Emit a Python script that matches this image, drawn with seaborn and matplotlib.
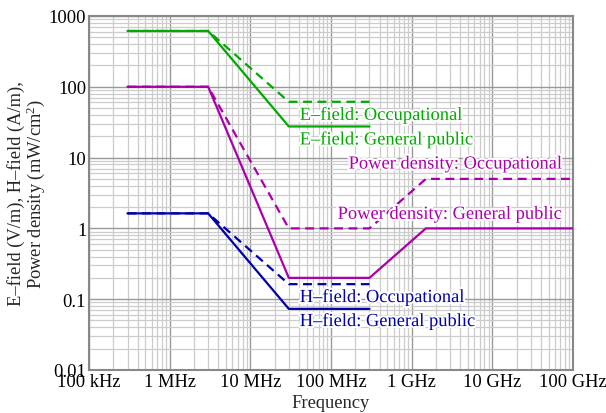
import numpy as np
import pandas as pd
import matplotlib
matplotlib.use("Agg")
import matplotlib.pyplot as plt
import matplotlib.patheffects as pe
from matplotlib.ticker import LogLocator, FixedLocator, NullFormatter
import seaborn as sns

# ---- data ----
freq_field = [3e5, 3e6, 3e7, 3e8]
e_occupational = [614, 614, 61.4, 61.4]
e_general = [614, 614, 27.5, 27.5]
h_occupational = [1.63, 1.63, 0.163, 0.163]
h_general = [1.63, 1.63, 0.073, 0.073]
freq_power = [3e5, 3e6, 3e7, 3e8, 1.5e9, 1e11]
p_occupational = [100, 100, 1, 1, 5, 5]
p_general = [100, 100, 0.2, 0.2, 1, 1]

x_ticks = [1e5, 1e6, 1e7, 1e8, 1e9, 1e10, 1e11]
x_tick_labels = ["100 kHz", "1 MHz", "10 MHz", "100 MHz", "1 GHz", "10 GHz", "100 GHz"]
y_ticks = [0.01, 0.1, 1, 10, 100, 1000]
y_tick_labels = ["0.01", "0.1", "1", "10", "100", "1000"]

GREEN = "#00aa00"
MAGENTA = "#aa00aa"
BLUE = "#0000aa"

sns.set_theme(style="white")
plt.rcParams["font.family"] = ["Liberation Serif", "DejaVu Serif"]
plt.rcParams["mathtext.fontset"] = "custom"
plt.rcParams["mathtext.rm"] = "Liberation Serif"
plt.rcParams["mathtext.it"] = "Liberation Serif:italic"
FS = 13.3

fig = plt.figure(figsize=(6.06, 4.14), dpi=100)
ax = fig.add_axes([0.1469, 0.1039, 0.7986, 0.8551])

series = [
    (freq_field, e_occupational, GREEN, (0, (4, 2.5))),
    (freq_field, e_general, GREEN, "-"),
    (freq_field, h_occupational, BLUE, (0, (4, 2.5))),
    (freq_field, h_general, BLUE, "-"),
    (freq_power, p_occupational, MAGENTA, (0, (4, 2.5))),
    (freq_power, p_general, MAGENTA, "-"),
]
for fx, fy, col, ls in series:
    df = pd.DataFrame({"f": fx, "v": fy})
    sns.lineplot(data=df, x="f", y="v", ax=ax, color=col, linestyle=ls,
                 linewidth=1.6, sort=False, zorder=3)

ax.set_xscale("log")
ax.set_yscale("log")
ax.set_xlim(1e5, 1e11)
ax.set_ylim(0.01, 1000)

ax.xaxis.set_major_locator(FixedLocator(x_ticks))
ax.set_xticklabels(x_tick_labels)
ax.yaxis.set_major_locator(FixedLocator(y_ticks))
ax.set_yticklabels(y_tick_labels)
ax.xaxis.set_minor_locator(LogLocator(base=10, subs=np.arange(2, 10), numticks=20))
ax.yaxis.set_minor_locator(LogLocator(base=10, subs=np.arange(2, 10), numticks=20))
ax.xaxis.set_minor_formatter(NullFormatter())
ax.yaxis.set_minor_formatter(NullFormatter())

ax.grid(True, which="major", color="#999999", linewidth=1.0, zorder=0)
ax.grid(True, which="minor", color="#cccccc", linewidth=0.9, zorder=0)
ax.set_axisbelow(True)
for s in ax.spines.values():
    s.set_color("#888888")
    s.set_linewidth(1.5)
ax.tick_params(axis="both", which="both", length=0, labelsize=FS, colors="black", pad=2)

ax.set_xlabel("Frequency", fontsize=FS, labelpad=3)
ax.set_ylabel("E\u2013field (V/m), H\u2013field (A/m),\nPower density (mW/cm$^2$)",
              fontsize=FS, labelpad=1, linespacing=1.0)

stroke = [pe.withStroke(linewidth=3, foreground="white")]
def label(x, y, s, col, ha="left"):
    ax.text(x, y, s, color=col, fontsize=FS, ha=ha, va="center",
            path_effects=stroke, zorder=4)

label(4.1e7, 40, "E\u2013field: Occupational", GREEN)
label(4.1e7, 18, "E\u2013field: General public", GREEN)
label(7.5e10, 8.1, "Power density: Occupational", MAGENTA, ha="right")
label(7.5e10, 1.58, "Power density: General public", MAGENTA, ha="right")
label(4.1e7, 0.107, "H\u2013field: Occupational", BLUE)
label(4.1e7, 0.049, "H\u2013field: General public", BLUE)

fig.savefig("out.png", dpi=100)
